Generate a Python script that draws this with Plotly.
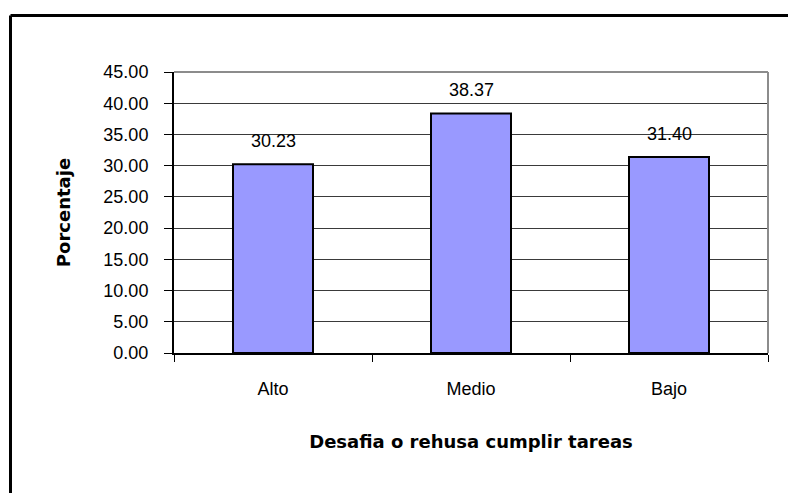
import plotly.graph_objects as go

categories = ["Alto", "Medio", "Bajo"]
values = [30.23, 38.37, 31.40]
value_labels = ["30.23", "38.37", "31.40"]
y_tick_values = [0, 5, 10, 15, 20, 25, 30, 35, 40, 45]
y_tick_labels = ["0.00", "5.00", "10.00", "15.00", "20.00", "25.00", "30.00", "35.00", "40.00", "45.00"]

TICK_FONT = dict(family="Liberation Sans, Arial, sans-serif", size=18, color="#000000")
TITLE_FONT = dict(family="DejaVu Sans, sans-serif", size=18, color="#000000", weight="bold")

fig = go.Figure()
fig.add_trace(go.Bar(
    x=categories,
    y=values,
    marker=dict(color="#9999FF", line=dict(color="#000000", width=2)),
    hoverinfo="x+y",
))

annotations = [
    dict(x=c, y=v, text=t, xref="x", yref="y", showarrow=False,
         yanchor="bottom", yshift=11, font=TICK_FONT)
    for c, v, t in zip(categories, values, value_labels)
]

W, H = 788, 493
L, R, T, B = 174, 20, 72, 140
pw, ph = W - L - R, H - T - B

def px_x(p):
    return (p - L) / pw

def px_y(p):
    return (H - B - p) / ph

shapes = [
    # gray top and right plot-area border
    dict(type="line", xref="paper", yref="paper", x0=0, x1=1, y0=1, y1=1,
         line=dict(color="#8c8c8c", width=2), layer="above"),
    dict(type="line", xref="paper", yref="paper", x0=1, x1=1, y0=0, y1=1,
         line=dict(color="#8c8c8c", width=2), layer="above"),
    # outer chart frame (cut off at right and bottom)
    dict(type="line", xref="paper", yref="paper", x0=px_x(10.5), x1=px_x(800),
         y0=px_y(15.5), y1=px_y(15.5), line=dict(color="#000000", width=3), layer="above"),
    dict(type="line", xref="paper", yref="paper", x0=px_x(10.5), x1=px_x(10.5),
         y0=px_y(15.5), y1=px_y(510), line=dict(color="#000000", width=3), layer="above"),
]

fig.update_layout(
    width=W, height=H,
    margin=dict(l=L, r=R, t=T, b=B, pad=0),
    paper_bgcolor="#ffffff",
    plot_bgcolor="#ffffff",
    showlegend=False,
    bargap=0.596,
    annotations=annotations,
    shapes=shapes,
    xaxis=dict(
        type="category",
        tickson="boundaries",
        ticks="outside", ticklen=7, tickwidth=1, tickcolor="#000000",
        showline=True, linecolor="#000000", linewidth=2,
        showgrid=False, zeroline=False,
        tickfont=TICK_FONT,
        ticklabelstandoff=18,
        title=dict(text="Desafia o rehusa cumplir tareas", font=TITLE_FONT, standoff=38),
        automargin=False,
    ),
    yaxis=dict(
        range=[0, 45],
        tickvals=y_tick_values, ticktext=y_tick_labels,
        ticks="outside", ticklen=8, tickwidth=1, tickcolor="#000000",
        showline=True, linecolor="#000000", linewidth=2,
        showgrid=True, gridcolor="#3a3a3a", gridwidth=1,
        zeroline=False,
        tickfont=TICK_FONT,
        ticklabelstandoff=12,
        title=dict(text="Porcentaje", font=TITLE_FONT, standoff=28),
        automargin=False,
        fixedrange=True,
    ),
)

fig.write_html(
    "out.html",
    config={"displayModeBar": False},
    post_script="document.body.style.margin='0';document.body.style.overflow='hidden';",
)
